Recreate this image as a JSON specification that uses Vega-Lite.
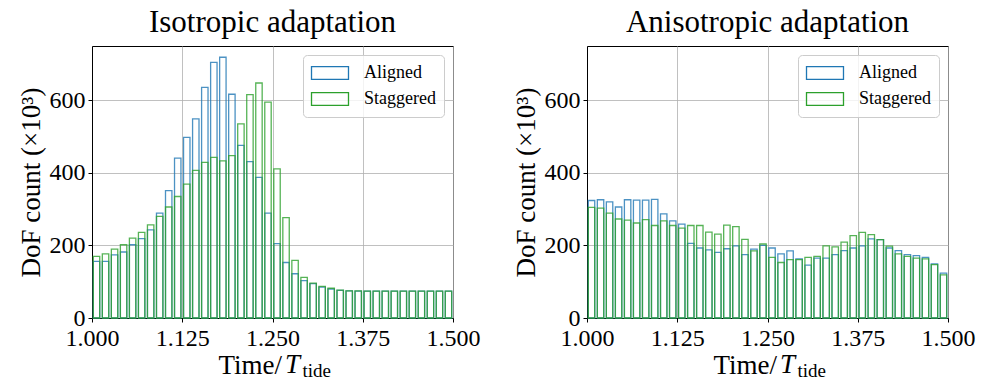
{
  "$schema": "https://vega.github.io/schema/vega-lite/v6.json",
  "background": "white",
  "padding": {"left": 16, "top": 6, "right": 5, "bottom": 5},
  "datasets": {
    "iso": [
      {"t0":1.0,"t1":1.0125,"series":"Aligned","count":156},{"t0":1.0125,"t1":1.025,"series":"Aligned","count":156},{"t0":1.025,"t1":1.0375,"series":"Aligned","count":174},{"t0":1.0375,"t1":1.05,"series":"Aligned","count":182},{"t0":1.05,"t1":1.0625,"series":"Aligned","count":202},{"t0":1.0625,"t1":1.075,"series":"Aligned","count":219},{"t0":1.075,"t1":1.0875,"series":"Aligned","count":243},{"t0":1.0875,"t1":1.1,"series":"Aligned","count":289},{"t0":1.1,"t1":1.1125,"series":"Aligned","count":351},{"t0":1.1125,"t1":1.125,"series":"Aligned","count":441},
      {"t0":1.125,"t1":1.1375,"series":"Aligned","count":498},{"t0":1.1375,"t1":1.15,"series":"Aligned","count":549},{"t0":1.15,"t1":1.1625,"series":"Aligned","count":636},{"t0":1.1625,"t1":1.175,"series":"Aligned","count":705},{"t0":1.175,"t1":1.1875,"series":"Aligned","count":719},{"t0":1.1875,"t1":1.2,"series":"Aligned","count":617},{"t0":1.2,"t1":1.2125,"series":"Aligned","count":476},{"t0":1.2125,"t1":1.225,"series":"Aligned","count":431},{"t0":1.225,"t1":1.2375,"series":"Aligned","count":388},{"t0":1.2375,"t1":1.25,"series":"Aligned","count":289},
      {"t0":1.25,"t1":1.2625,"series":"Aligned","count":205},{"t0":1.2625,"t1":1.275,"series":"Aligned","count":153},{"t0":1.275,"t1":1.2875,"series":"Aligned","count":122},{"t0":1.2875,"t1":1.3,"series":"Aligned","count":103},{"t0":1.3,"t1":1.3125,"series":"Aligned","count":95},{"t0":1.3125,"t1":1.325,"series":"Aligned","count":85},{"t0":1.325,"t1":1.3375,"series":"Aligned","count":80},{"t0":1.3375,"t1":1.35,"series":"Aligned","count":76},{"t0":1.35,"t1":1.3625,"series":"Aligned","count":75},{"t0":1.3625,"t1":1.375,"series":"Aligned","count":74},
      {"t0":1.375,"t1":1.3875,"series":"Aligned","count":74},{"t0":1.3875,"t1":1.4,"series":"Aligned","count":74},{"t0":1.4,"t1":1.4125,"series":"Aligned","count":74},{"t0":1.4125,"t1":1.425,"series":"Aligned","count":74},{"t0":1.425,"t1":1.4375,"series":"Aligned","count":74},{"t0":1.4375,"t1":1.45,"series":"Aligned","count":74},{"t0":1.45,"t1":1.4625,"series":"Aligned","count":74},{"t0":1.4625,"t1":1.475,"series":"Aligned","count":74},{"t0":1.475,"t1":1.4875,"series":"Aligned","count":74},{"t0":1.4875,"t1":1.5,"series":"Aligned","count":74},
      {"t0":1.0,"t1":1.0125,"series":"Staggered","count":170},{"t0":1.0125,"t1":1.025,"series":"Staggered","count":177},{"t0":1.025,"t1":1.0375,"series":"Staggered","count":190},{"t0":1.0375,"t1":1.05,"series":"Staggered","count":202},{"t0":1.05,"t1":1.0625,"series":"Staggered","count":220},{"t0":1.0625,"t1":1.075,"series":"Staggered","count":236},{"t0":1.075,"t1":1.0875,"series":"Staggered","count":257},{"t0":1.0875,"t1":1.1,"series":"Staggered","count":280},{"t0":1.1,"t1":1.1125,"series":"Staggered","count":306},{"t0":1.1125,"t1":1.125,"series":"Staggered","count":335},
      {"t0":1.125,"t1":1.1375,"series":"Staggered","count":369},{"t0":1.1375,"t1":1.15,"series":"Staggered","count":407},{"t0":1.15,"t1":1.1625,"series":"Staggered","count":429},{"t0":1.1625,"t1":1.175,"series":"Staggered","count":443},{"t0":1.175,"t1":1.1875,"series":"Staggered","count":433},{"t0":1.1875,"t1":1.2,"series":"Staggered","count":448},{"t0":1.2,"t1":1.2125,"series":"Staggered","count":535},{"t0":1.2125,"t1":1.225,"series":"Staggered","count":616},{"t0":1.225,"t1":1.2375,"series":"Staggered","count":648},{"t0":1.2375,"t1":1.25,"series":"Staggered","count":595},
      {"t0":1.25,"t1":1.2625,"series":"Staggered","count":411},{"t0":1.2625,"t1":1.275,"series":"Staggered","count":277},{"t0":1.275,"t1":1.2875,"series":"Staggered","count":159},{"t0":1.2875,"t1":1.3,"series":"Staggered","count":112},{"t0":1.3,"t1":1.3125,"series":"Staggered","count":96},{"t0":1.3125,"t1":1.325,"series":"Staggered","count":87},{"t0":1.325,"t1":1.3375,"series":"Staggered","count":82},{"t0":1.3375,"t1":1.35,"series":"Staggered","count":77},{"t0":1.35,"t1":1.3625,"series":"Staggered","count":75},{"t0":1.3625,"t1":1.375,"series":"Staggered","count":75},
      {"t0":1.375,"t1":1.3875,"series":"Staggered","count":74},{"t0":1.3875,"t1":1.4,"series":"Staggered","count":74},{"t0":1.4,"t1":1.4125,"series":"Staggered","count":74},{"t0":1.4125,"t1":1.425,"series":"Staggered","count":74},{"t0":1.425,"t1":1.4375,"series":"Staggered","count":74},{"t0":1.4375,"t1":1.45,"series":"Staggered","count":74},{"t0":1.45,"t1":1.4625,"series":"Staggered","count":74},{"t0":1.4625,"t1":1.475,"series":"Staggered","count":74},{"t0":1.475,"t1":1.4875,"series":"Staggered","count":74},{"t0":1.4875,"t1":1.5,"series":"Staggered","count":74}
    ],
    "aniso": [
      {"t0":1.0,"t1":1.0125,"series":"Aligned","count":324},{"t0":1.0125,"t1":1.025,"series":"Aligned","count":326},{"t0":1.025,"t1":1.0375,"series":"Aligned","count":320},{"t0":1.0375,"t1":1.05,"series":"Aligned","count":306},{"t0":1.05,"t1":1.0625,"series":"Aligned","count":326},{"t0":1.0625,"t1":1.075,"series":"Aligned","count":325},{"t0":1.075,"t1":1.0875,"series":"Aligned","count":325},{"t0":1.0875,"t1":1.1,"series":"Aligned","count":327},{"t0":1.1,"t1":1.1125,"series":"Aligned","count":287},{"t0":1.1125,"t1":1.125,"series":"Aligned","count":268},
      {"t0":1.125,"t1":1.1375,"series":"Aligned","count":259},{"t0":1.1375,"t1":1.15,"series":"Aligned","count":206},{"t0":1.15,"t1":1.1625,"series":"Aligned","count":193},{"t0":1.1625,"t1":1.175,"series":"Aligned","count":188},{"t0":1.175,"t1":1.1875,"series":"Aligned","count":181},{"t0":1.1875,"t1":1.2,"series":"Aligned","count":191},{"t0":1.2,"t1":1.2125,"series":"Aligned","count":199},{"t0":1.2125,"t1":1.225,"series":"Aligned","count":175},{"t0":1.225,"t1":1.2375,"series":"Aligned","count":190},{"t0":1.2375,"t1":1.25,"series":"Aligned","count":200},
      {"t0":1.25,"t1":1.2625,"series":"Aligned","count":193},{"t0":1.2625,"t1":1.275,"series":"Aligned","count":177},{"t0":1.275,"t1":1.2875,"series":"Aligned","count":185},{"t0":1.2875,"t1":1.3,"series":"Aligned","count":163},{"t0":1.3,"t1":1.3125,"series":"Aligned","count":146},{"t0":1.3125,"t1":1.325,"series":"Aligned","count":165},{"t0":1.325,"t1":1.3375,"series":"Aligned","count":165},{"t0":1.3375,"t1":1.35,"series":"Aligned","count":175},{"t0":1.35,"t1":1.3625,"series":"Aligned","count":186},{"t0":1.3625,"t1":1.375,"series":"Aligned","count":193},
      {"t0":1.375,"t1":1.3875,"series":"Aligned","count":199},{"t0":1.3875,"t1":1.4,"series":"Aligned","count":218},{"t0":1.4,"t1":1.4125,"series":"Aligned","count":216},{"t0":1.4125,"t1":1.425,"series":"Aligned","count":193},{"t0":1.425,"t1":1.4375,"series":"Aligned","count":186},{"t0":1.4375,"t1":1.45,"series":"Aligned","count":175},{"t0":1.45,"t1":1.4625,"series":"Aligned","count":172},{"t0":1.4625,"t1":1.475,"series":"Aligned","count":167},{"t0":1.475,"t1":1.4875,"series":"Aligned","count":149},{"t0":1.4875,"t1":1.5,"series":"Aligned","count":124},
      {"t0":1.0,"t1":1.0125,"series":"Staggered","count":305},{"t0":1.0125,"t1":1.025,"series":"Staggered","count":303},{"t0":1.025,"t1":1.0375,"series":"Staggered","count":289},{"t0":1.0375,"t1":1.05,"series":"Staggered","count":273},{"t0":1.05,"t1":1.0625,"series":"Staggered","count":270},{"t0":1.0625,"t1":1.075,"series":"Staggered","count":262},{"t0":1.075,"t1":1.0875,"series":"Staggered","count":271},{"t0":1.0875,"t1":1.1,"series":"Staggered","count":255},{"t0":1.1,"t1":1.1125,"series":"Staggered","count":268},{"t0":1.1125,"t1":1.125,"series":"Staggered","count":255},
      {"t0":1.125,"t1":1.1375,"series":"Staggered","count":248},{"t0":1.1375,"t1":1.15,"series":"Staggered","count":255},{"t0":1.15,"t1":1.1625,"series":"Staggered","count":255},{"t0":1.1625,"t1":1.175,"series":"Staggered","count":237},{"t0":1.175,"t1":1.1875,"series":"Staggered","count":231},{"t0":1.1875,"t1":1.2,"series":"Staggered","count":256},{"t0":1.2,"t1":1.2125,"series":"Staggered","count":252},{"t0":1.2125,"t1":1.225,"series":"Staggered","count":217},{"t0":1.225,"t1":1.2375,"series":"Staggered","count":185},{"t0":1.2375,"t1":1.25,"series":"Staggered","count":204},
      {"t0":1.25,"t1":1.2625,"series":"Staggered","count":167},{"t0":1.2625,"t1":1.275,"series":"Staggered","count":153},{"t0":1.275,"t1":1.2875,"series":"Staggered","count":161},{"t0":1.2875,"t1":1.3,"series":"Staggered","count":161},{"t0":1.3,"t1":1.3125,"series":"Staggered","count":167},{"t0":1.3125,"t1":1.325,"series":"Staggered","count":170},{"t0":1.325,"t1":1.3375,"series":"Staggered","count":199},{"t0":1.3375,"t1":1.35,"series":"Staggered","count":196},{"t0":1.35,"t1":1.3625,"series":"Staggered","count":209},{"t0":1.3625,"t1":1.375,"series":"Staggered","count":227},
      {"t0":1.375,"t1":1.3875,"series":"Staggered","count":236},{"t0":1.3875,"t1":1.4,"series":"Staggered","count":230},{"t0":1.4,"t1":1.4125,"series":"Staggered","count":216},{"t0":1.4125,"t1":1.425,"series":"Staggered","count":198},{"t0":1.425,"t1":1.4375,"series":"Staggered","count":177},{"t0":1.4375,"t1":1.45,"series":"Staggered","count":170},{"t0":1.45,"t1":1.4625,"series":"Staggered","count":165},{"t0":1.4625,"t1":1.475,"series":"Staggered","count":163},{"t0":1.475,"t1":1.4875,"series":"Staggered","count":147},{"t0":1.4875,"t1":1.5,"series":"Staggered","count":119}
    ]
  },
  "spacing": 30,
  "hconcat": [
    {
      "width": 361, "height": 272,
      "title": {"text": "Isotropic adaptation"},
      "layer": [
        {
          "data": {"name": "iso"},
          "mark": {"type": "rect", "filled": false, "strokeWidth": 1.3, "strokeOpacity": 0.8, "xOffset": 1.3, "x2Offset": -1.3},
          "encoding": {
            "x": {"field": "t0", "type": "quantitative", "scale": {"domain": [1, 1.5], "nice": false, "zero": false},
                  "axis": {"values": [1, 1.125, 1.25, 1.375, 1.5], "format": ".3f", "title": "Time/", "titleAlign": "left", "titleAnchor": null, "titleX": 126, "titleY": 55, "titleBaseline": "alphabetic", "labelFlush": false, "labelPadding": 4}},
            "x2": {"field": "t1"},
            "y": {"field": "count", "type": "quantitative", "scale": {"domain": [0, 750], "nice": false},
                  "axis": {"values": [0, 200, 400, 600], "title": "DoF count (×10³)"}},
            "y2": {"datum": 0},
            "stroke": {"field": "series", "type": "nominal", "scale": {"domain": ["Aligned", "Staggered"], "range": ["#1f77b4", "#2ca02c"]}, "legend": {"title": null}}
          }
        },
        {
          "data": {"values": [{}]},
          "mark": {"type": "text", "font": "Liberation Serif", "fontSize": 27, "fontStyle": "italic", "align": "left", "baseline": "alphabetic"},
          "encoding": {"x": {"datum": 1.2673}, "y": {"datum": -151}, "text": {"value": "T"}}
        },
        {
          "data": {"values": [{}]},
          "mark": {"type": "text", "font": "Liberation Serif", "fontSize": 19, "align": "left", "baseline": "alphabetic"},
          "encoding": {"x": {"datum": 1.2915}, "y": {"datum": -163}, "text": {"value": "tide"}}
        }
      ]
    },
    {
      "width": 361, "height": 272,
      "title": {"text": "Anisotropic adaptation"},
      "layer": [
        {
          "data": {"name": "aniso"},
          "mark": {"type": "rect", "filled": false, "strokeWidth": 1.3, "strokeOpacity": 0.8, "xOffset": 1.3, "x2Offset": -1.3},
          "encoding": {
            "x": {"field": "t0", "type": "quantitative", "scale": {"domain": [1, 1.5], "nice": false, "zero": false},
                  "axis": {"values": [1, 1.125, 1.25, 1.375, 1.5], "format": ".3f", "title": "Time/", "titleAlign": "left", "titleAnchor": null, "titleX": 126, "titleY": 55, "titleBaseline": "alphabetic", "labelFlush": false, "labelPadding": 4}},
            "x2": {"field": "t1"},
            "y": {"field": "count", "type": "quantitative", "scale": {"domain": [0, 750], "nice": false},
                  "axis": {"values": [0, 200, 400, 600], "title": "DoF count (×10³)"}},
            "y2": {"datum": 0},
            "stroke": {"field": "series", "type": "nominal", "scale": {"domain": ["Aligned", "Staggered"], "range": ["#1f77b4", "#2ca02c"]}, "legend": {"title": null}}
          }
        },
        {
          "data": {"values": [{}]},
          "mark": {"type": "text", "font": "Liberation Serif", "fontSize": 27, "fontStyle": "italic", "align": "left", "baseline": "alphabetic"},
          "encoding": {"x": {"datum": 1.2673}, "y": {"datum": -151}, "text": {"value": "T"}}
        },
        {
          "data": {"values": [{}]},
          "mark": {"type": "text", "font": "Liberation Serif", "fontSize": 19, "align": "left", "baseline": "alphabetic"},
          "encoding": {"x": {"datum": 1.2915}, "y": {"datum": -163}, "text": {"value": "tide"}}
        }
      ]
    }
  ],
  "resolve": {"legend": {"stroke": "independent"}},
  "config": {
    "font": "Liberation Serif",
    "view": {"stroke": "black", "strokeWidth": 1},
    "axis": {
      "domainColor": "black", "domainWidth": 1, "tickColor": "black", "tickSize": 4, "tickWidth": 1,
      "gridColor": "#b0b0b0", "gridWidth": 0.8, "grid": true,
      "labelFont": "Liberation Serif", "labelFontSize": 24, "labelColor": "black", "labelPadding": 3,
      "titleFont": "Liberation Serif", "titleFontSize": 27, "titleFontWeight": "normal", "titleColor": "black"
    },
    "title": {"font": "Liberation Serif", "fontSize": 31, "fontWeight": "normal", "color": "black", "offset": 7},
    "legend": {
      "orient": "top-right", "offset": 9, "padding": 8,
      "fillColor": "rgba(255,255,255,0.8)", "strokeColor": "#cccccc", "cornerRadius": 4,
      "symbolType": "M-2,-0.7L2,-0.7L2,0.7L-2,0.7Z", "symbolSize": 342, "symbolOffset": 9, "symbolStrokeWidth": 1.3, "symbolFillColor": "transparent",
      "labelFont": "Liberation Serif", "labelFontSize": 18, "labelColor": "black", "labelOffset": 24, "rowPadding": 6
    }
  }
}
